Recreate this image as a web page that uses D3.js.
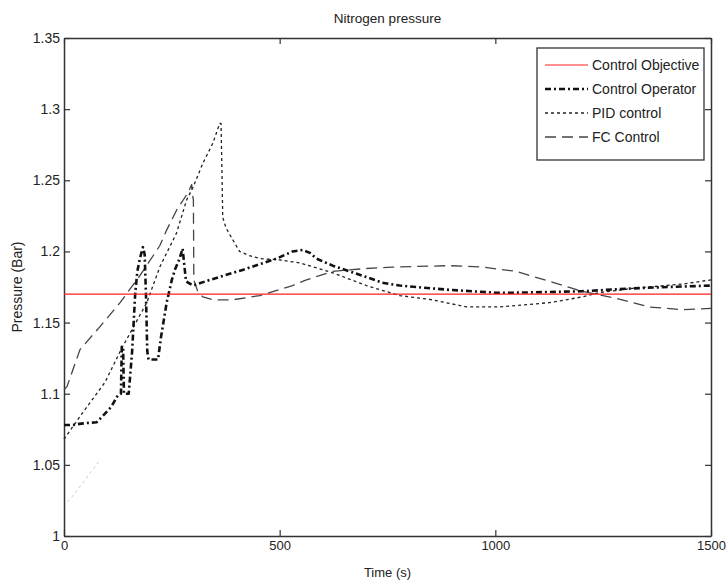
<!DOCTYPE html>
<html>
<head>
<meta charset="utf-8">
<script src="https://cdn.jsdelivr.net/npm/d3@7"></script>
<style>
  body { margin: 0; background: #fff; }
  text { font-family: "Liberation Sans", Arial, sans-serif; fill: #222; }
</style>
</head>
<body>
<svg id="chart" width="727" height="582"></svg>
<script>
// time (s), pressure (bar)
var objective = [[0, 1.17], [1500, 1.17]];

var operator = [[0, 1.078], [20, 1.078], [40, 1.079], [76, 1.080], [95, 1.086], [110, 1.091],
  [125, 1.099], [132, 1.100], [134, 1.133], [137, 1.133], [139, 1.100], [150, 1.100],
  [158, 1.130], [165, 1.170], [170, 1.186], [176, 1.195], [183, 1.203], [187, 1.198],
  [190, 1.170], [193, 1.130], [196, 1.124], [218, 1.124], [225, 1.140], [238, 1.164],
  [250, 1.180], [257, 1.187], [268, 1.195], [275, 1.202], [279, 1.190], [283, 1.179],
  [299, 1.176], [338, 1.180], [414, 1.187], [493, 1.195], [530, 1.200], [553, 1.201],
  [570, 1.199], [585, 1.195], [623, 1.190], [662, 1.186], [701, 1.182], [738, 1.178],
  [778, 1.176], [893, 1.173], [1000, 1.171], [1048, 1.171], [1201, 1.172], [1317, 1.174],
  [1400, 1.175], [1500, 1.176]];

var pid = [[0, 1.068], [37, 1.084], [95, 1.108], [134, 1.132], [192, 1.164], [222, 1.189],
  [261, 1.213], [284, 1.236], [299, 1.245], [322, 1.262], [345, 1.276], [361, 1.290],
  [364, 1.290], [366, 1.260], [368, 1.224], [375, 1.217], [384, 1.212], [407, 1.200],
  [430, 1.197], [454, 1.195], [500, 1.194], [546, 1.192], [623, 1.185], [701, 1.176],
  [778, 1.169], [854, 1.166], [933, 1.161], [1009, 1.161], [1125, 1.164], [1201, 1.168],
  [1241, 1.171], [1317, 1.174], [1433, 1.177], [1500, 1.180]];

var fc = [[0, 1.103], [7, 1.105], [37, 1.131], [83, 1.147], [130, 1.164], [176, 1.183],
  [222, 1.204], [238, 1.215], [261, 1.229], [287, 1.241], [296, 1.247], [298, 1.240],
  [300, 1.236], [301, 1.180], [310, 1.172], [322, 1.168], [345, 1.166], [391, 1.166],
  [454, 1.169], [530, 1.176], [562, 1.180], [623, 1.186], [701, 1.188], [761, 1.189],
  [893, 1.190], [970, 1.189], [1048, 1.186], [1125, 1.179], [1201, 1.172], [1280, 1.167],
  [1356, 1.161], [1433, 1.159], [1500, 1.160]];

// very faint trace near the bottom left
var faint = [[8, 1.024], [20, 1.028], [50, 1.040], [80, 1.052]];

var xTicks = [0, 500, 1000, 1500];
var yTicks = [1, 1.05, 1.1, 1.15, 1.2, 1.25, 1.3, 1.35];
var legendNames = ["Control Objective", "Control Operator", "PID control", "FC Control"];

var margin = {left: 64, right: 16, top: 38, bottom: 46};
var W = 727, H = 582;

var svg = d3.select("#chart");
svg.append("rect").attr("width", W).attr("height", H).attr("fill", "#fff");

var x = d3.scaleLinear().domain([0, 1500]).range([margin.left, W - margin.right]);
var y = d3.scaleLinear().domain([1, 1.35]).range([H - margin.bottom, margin.top]);

var fmt = function(d) { return String(+d.toFixed(2)); };

// axes, ticks point inward like matlab
function styleAxis(g, size) {
  g.selectAll(".domain").attr("stroke", "#333").attr("stroke-width", 1.5);
  g.selectAll(".tick line").attr("stroke", "#333").attr("stroke-width", 1.2);
  g.selectAll(".tick text").style("font-size", (size || 14) + "px").attr("fill", "#222");
}

svg.append("g")
  .attr("transform", "translate(0," + y(1) + ")")
  .call(d3.axisBottom(x).tickValues(xTicks).tickSize(-6).tickSizeOuter(0).tickPadding(5).tickFormat(d3.format("d")))
  .call(styleAxis, 13);

svg.append("g")
  .attr("transform", "translate(0," + y(1.35) + ")")
  .call(d3.axisTop(x).tickValues(xTicks).tickSize(-6).tickSizeOuter(0).tickFormat(""))
  .call(styleAxis);

svg.append("g")
  .attr("transform", "translate(" + x(0) + ",0)")
  .call(d3.axisLeft(y).tickValues(yTicks).tickSize(-6).tickSizeOuter(0).tickPadding(4).tickFormat(fmt))
  .call(styleAxis);

svg.append("g")
  .attr("transform", "translate(" + x(1500) + ",0)")
  .call(d3.axisRight(y).tickValues(yTicks).tickSize(-6).tickSizeOuter(0).tickFormat(""))
  .call(styleAxis);

var line = d3.line()
  .x(function(d) { return x(d[0]); })
  .y(function(d) { return y(d[1]); });

var styles = [
  {data: objective, stroke: "#ff2020", width: 1.2, dash: null},
  {data: operator, stroke: "#111", width: 2.6, dash: "6,3,2,3"},
  {data: pid, stroke: "#222", width: 1.3, dash: "3,3"},
  {data: fc, stroke: "#444", width: 1.3, dash: "11,6"}
];

var plot = svg.append("g").attr("class", "lines");

plot.append("path")
  .attr("d", line(faint))
  .attr("fill", "none")
  .attr("stroke", "#ccc")
  .attr("stroke-width", 1)
  .attr("stroke-dasharray", "3,3");

// draw pid/fc/operator first, objective line on top
[2, 3, 1, 0].forEach(function(i) {
  var s = styles[i];
  plot.append("path")
    .attr("d", line(s.data))
    .attr("fill", "none")
    .attr("stroke", s.stroke)
    .attr("stroke-width", s.width)
    .attr("stroke-dasharray", s.dash)
    .attr("stroke-linejoin", "round");
});

// legend
var legend = svg.append("g").attr("transform", "translate(537,48)");
legend.append("rect")
  .attr("width", 167).attr("height", 112)
  .attr("fill", "#fff").attr("stroke", "#333").attr("stroke-width", 1.3);

legendNames.forEach(function(name, i) {
  var s = styles[i];
  var row = legend.append("g").attr("transform", "translate(0," + (17 + i * 24) + ")");
  row.append("line")
    .attr("x1", 8).attr("x2", 51)
    .attr("stroke", s.stroke)
    .attr("stroke-width", s.width)
    .attr("stroke-dasharray", s.dash);
  row.append("text")
    .attr("x", 55).attr("y", 5)
    .style("font-size", "14px")
    .text(name);
});

// titles
svg.append("text")
  .attr("x", (x(0) + x(1500)) / 2).attr("y", 23)
  .attr("text-anchor", "middle")
  .style("font-size", "13.5px")
  .text("Nitrogen pressure");

svg.append("text")
  .attr("x", (x(0) + x(1500)) / 2).attr("y", 577)
  .attr("text-anchor", "middle")
  .style("font-size", "13px")
  .text("Time (s)");

svg.append("text")
  .attr("transform", "translate(22," + ((y(1) + y(1.35)) / 2) + ") rotate(-90)")
  .attr("text-anchor", "middle")
  .style("font-size", "14px")
  .text("Pressure (Bar)");
</script>
</body>
</html>
